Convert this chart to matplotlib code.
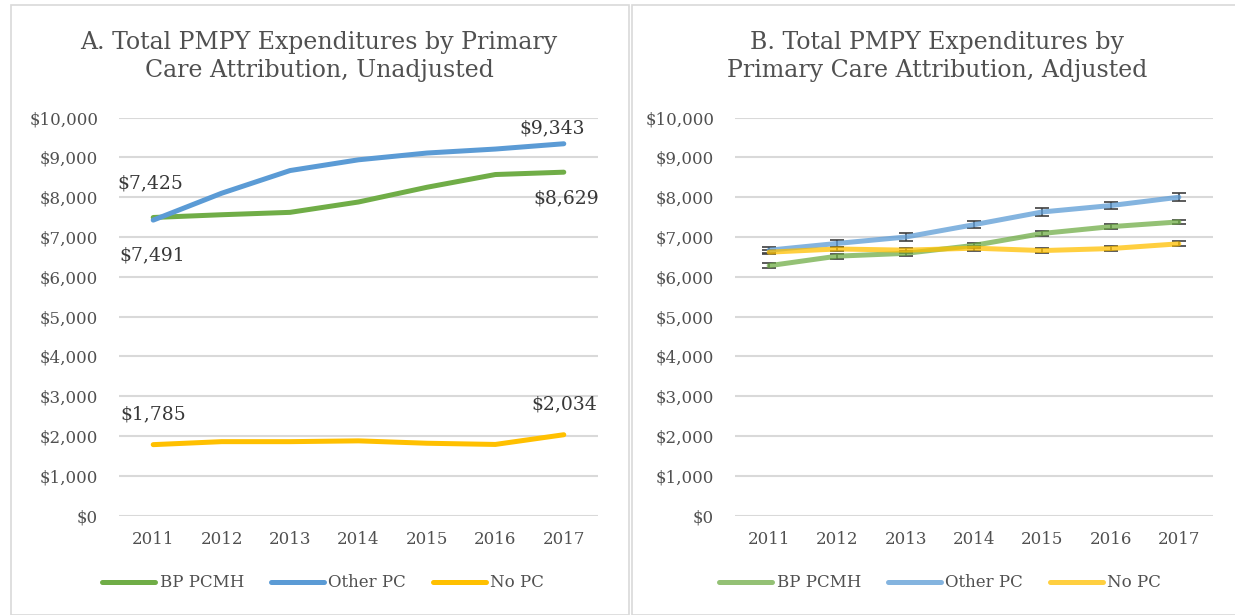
import matplotlib
matplotlib.use("Agg")
import matplotlib.pyplot as plt
from matplotlib.patches import Rectangle

years = ["2011", "2012", "2013", "2014", "2015", "2016", "2017"]
series_names = ["BP PCMH", "Other PC", "No PC"]

# Panel A: unadjusted
unadj_bp = [7491, 7560, 7620, 7880, 8250, 8570, 8629]
unadj_other = [7425, 8100, 8670, 8940, 9110, 9210, 9343]
unadj_nopc = [1785, 1860, 1860, 1880, 1820, 1790, 2034]

# Panel B: adjusted
adj_bp = [6280, 6520, 6590, 6790, 7090, 7260, 7380]
adj_other = [6670, 6840, 7000, 7310, 7630, 7790, 8000]
adj_nopc = [6620, 6700, 6670, 6720, 6660, 6710, 6830]
adj_bp_err = [60, 60, 60, 60, 55, 55, 60]
adj_other_err = [75, 85, 90, 85, 90, 85, 100]
adj_nopc_err = [55, 60, 60, 60, 55, 55, 60]

yticks = list(range(0, 10001, 1000))

colors = ["#70AD47", "#5B9BD5", "#FFC000"]
txt_col = "#505050"
lab_col = "#383838"
grid_col = "#D9D9D9"
FONT = "DejaVu Serif"
plt.rcParams["font.family"] = FONT

W, H = 1235, 615
fig = plt.figure(figsize=(W / 100, H / 100), dpi=100)

# panel frames
fig.add_artist(Rectangle((11 / W, 0), (629 - 11) / W, 1 - 5 / H, transform=fig.transFigure,
                         fill=False, edgecolor=grid_col, linewidth=1.2))
fig.add_artist(Rectangle((632 / W, 0), (1240 - 632) / W, 1 - 5 / H, transform=fig.transFigure,
                         fill=False, edgecolor=grid_col, linewidth=1.2))

def ax_rect(x0, x1):
    y_top, y_bot = 117.6, 515.7
    return [x0 / W, 1 - y_bot / H, (x1 - x0) / W, (y_bot - y_top) / H]

axA = fig.add_axes(ax_rect(119, 598))
axB = fig.add_axes(ax_rect(735, 1213))

def style(ax):
    ax.set_xlim(-0.5, len(years) - 0.5)
    ax.set_ylim(0, 10000)
    ax.set_yticks(yticks)
    ax.set_yticklabels([f"${v:,}" for v in yticks], fontsize=12, color=txt_col)
    ax.set_xticks(range(len(years)))
    ax.set_xticklabels(years, fontsize=12, color=txt_col)
    ax.tick_params(length=0)
    ax.tick_params(axis="y", pad=15)
    ax.tick_params(axis="x", pad=11)
    for s in ax.spines.values():
        s.set_visible(False)
    ax.grid(axis="y", color=grid_col, linewidth=1.5)
    ax.set_axisbelow(True)

style(axA)
style(axB)

x = list(range(len(years)))
lw = 3.6
for vals, c, n in zip([unadj_bp, unadj_other, unadj_nopc], colors, series_names):
    axA.plot(x, vals, color=c, linewidth=lw, label=n, solid_capstyle="round", zorder=3)

for vals, errs, c, n in zip([adj_bp, adj_other, adj_nopc],
                            [adj_bp_err, adj_other_err, adj_nopc_err], colors, series_names):
    axB.errorbar(x, vals, yerr=errs, fmt="none", ecolor="#404040", elinewidth=1.2,
                 capsize=5, capthick=1.2, zorder=2)
    axB.plot(x, vals, color=c, linewidth=lw, alpha=0.75, label=n, solid_capstyle="round", zorder=3)

# data labels (panel A), offsets in points
labels = [
    (0, unadj_other[0], -3, 37),
    (0, unadj_bp[0], -1, -38),
    (6, unadj_other[6], -12, 15),
    (6, unadj_bp[6], 2, -26),
    (0, unadj_nopc[0], 0, 30),
    (6, unadj_nopc[6], 0, 30),
]
for xi, v, dx, dy in labels:
    axA.annotate(f"${v:,}", xy=(xi, v), xytext=(dx * 0.72, dy * 0.72), textcoords="offset points",
                 ha="center", va="center", fontsize=13.5, color=lab_col)

axA.set_title("A. Total PMPY Expenditures by Primary\nCare Attribution, Unadjusted",
              fontsize=17, color=txt_col, linespacing=1.3, pad=29,
              x=(319 - 119) / (598 - 119))
axB.set_title("B. Total PMPY Expenditures by\nPrimary Care Attribution, Adjusted",
              fontsize=17, color=txt_col, linespacing=1.3, pad=29,
              x=(937 - 735) / (1213 - 735))

for ax, cx in [(axA, (323 - 119) / 479), (axB, (940 - 735) / 478)]:
    leg = ax.legend(loc="center", bbox_to_anchor=(cx, -0.169), ncol=3, frameon=False,
                    fontsize=12, handlelength=3.2, handletextpad=0.25, columnspacing=1.6)
    for t in leg.get_texts():
        t.set_color(txt_col)

fig.savefig("out.png", dpi=100)
